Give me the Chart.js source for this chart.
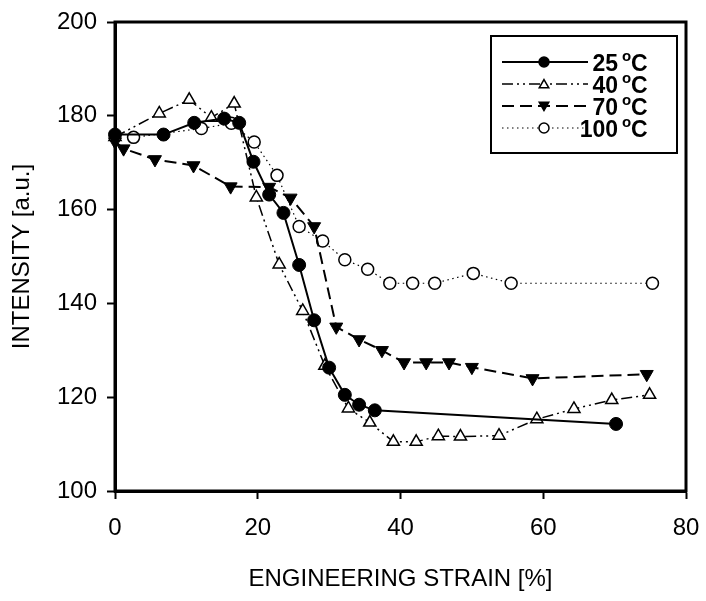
<!DOCTYPE html>
<html>
<head>
<meta charset="utf-8">
<script src="https://cdn.jsdelivr.net/npm/chart.js@4/dist/chart.umd.min.js"></script>
<style>
  html, body { margin: 0; padding: 0; background: #fff; }
  #wrap { width: 706px; height: 601px; }
</style>
</head>
<body>
<div id="wrap"><canvas id="c" width="706" height="601"></canvas></div>
<script>
// ejes
const xTicks = [0, 20, 40, 60, 80];
const yTicks = [100, 120, 140, 160, 180, 200];

// series: [deformación %, intensidad]
const strain25 = [0, 6.8, 11.1, 15.3, 17.4, 19.4, 21.6, 23.6, 25.8, 27.9, 30.0, 32.2, 34.2, 36.4, 70.2];
const int25    = [176, 176, 178.5, 179.4, 178.5, 170.2, 163.2, 159.3, 148.2, 136.4, 126.3, 120.5, 118.4, 117.2, 114.3];

const strain40 = [0, 6.2, 10.4, 13.5, 16.7, 19.8, 23.0, 26.3, 29.4, 32.7, 35.7, 39.0, 42.2, 45.3, 48.4, 53.8, 59.1, 64.3, 69.6, 74.9];
const int40    = [175.5, 180.5, 183.4, 179.6, 182.6, 162.6, 148.3, 138.4, 126.7, 117.6, 114.6, 110.5, 110.5, 111.7, 111.6, 111.8, 115.3, 117.5, 119.4, 120.5];

const strain70 = [0, 1.2, 5.6, 11.0, 16.2, 21.6, 24.6, 27.9, 31.0, 34.2, 37.4, 40.5, 43.6, 46.8, 50.0, 58.5, 74.5];
const int70    = [174.5, 173, 170.7, 169.4, 164.9, 164.8, 162.5, 156.4, 135, 132.3, 130, 127.4, 127.4, 127.4, 126.4, 124, 124.9];

const strain100 = [2.6, 12.1, 16.3, 19.5, 22.7, 25.8, 29.1, 32.2, 35.4, 38.5, 41.7, 44.8, 50.2, 55.5, 75.3];
const int100    = [175.4, 177.3, 178.4, 174.4, 167.3, 156.4, 153.3, 149.3, 147.3, 144.3, 144.3, 144.3, 146.4, 144.3, 144.3];

const seriesLabels = ['25', '40', '70', '100'];

function pts(xs, ys) {
  return xs.map((x, i) => ({ x: x, y: ys[i] }));
}

const FONT = '"Liberation Sans", Arial, sans-serif';

// marco completo + leyenda propia (línea con marcador en medio)
const legendBox = {
  id: 'legendBox',
  afterDraw(chart) {
    const ctx = chart.ctx;
    const area = chart.chartArea;
    ctx.save();
    ctx.strokeStyle = '#000';
    ctx.lineWidth = 3;
    ctx.strokeRect(area.left, area.top, area.right - area.left, area.bottom - area.top);

    const bx = 491, by = 36, bw = 186, bh = 117;
    ctx.fillStyle = '#fff';
    ctx.fillRect(bx, by, bw, bh);
    ctx.lineWidth = 2;
    ctx.strokeRect(bx, by, bw, bh);

    const rows = [62, 84, 106, 128];
    chart.data.datasets.forEach((ds, i) => {
      const y = rows[i];
      ctx.save();
      ctx.strokeStyle = '#000';
      ctx.lineWidth = ds.borderWidth;
      ctx.setLineDash(ds.borderDash || []);
      ctx.beginPath();
      ctx.moveTo(502, y);
      ctx.lineTo(588, y);
      ctx.stroke();
      ctx.restore();

      ctx.fillStyle = ds.pointBackgroundColor;
      ctx.strokeStyle = '#000';
      ctx.lineWidth = 1.5;
      ctx.beginPath();
      if (ds.pointStyle === 'circle') {
        ctx.arc(544, y, 5, 0, Math.PI * 2);
      } else {
        const r = 5.5, rot = (ds.pointRotation || 0) * Math.PI / 180;
        for (let k = 0; k < 3; k++) {
          const a = rot - Math.PI / 2 + k * 2 * Math.PI / 3;
          const px = 544 + r * Math.cos(a), py = y + r * Math.sin(a) + (rot ? -1 : 1);
          k === 0 ? ctx.moveTo(px, py) : ctx.lineTo(px, py);
        }
        ctx.closePath();
      }
      ctx.fill();
      ctx.stroke();

      // texto "25 oC"
      ctx.fillStyle = '#000';
      ctx.textBaseline = 'alphabetic';
      ctx.textAlign = 'right';
      const right = 618;
      ctx.font = 'bold 23px ' + FONT;
      ctx.fillText(seriesLabels[i], right, y + 9);
      ctx.textAlign = 'left';
      ctx.font = 'bold 15px ' + FONT;
      ctx.fillText('o', right + 4, y - 1);
      ctx.font = 'bold 23px ' + FONT;
      ctx.fillText('C', right + 13, y + 9);
    });
    ctx.restore();
  }
};

const datasets = [
  {
    label: '25 oC',
    data: pts(strain25, int25),
    borderColor: '#000',
    borderWidth: 2,
    pointStyle: 'circle',
    pointRadius: 6.5,
    pointBackgroundColor: '#000',
    pointBorderColor: '#000',
    pointBorderWidth: 1
  },
  {
    label: '40 oC',
    data: pts(strain40, int40),
    borderColor: '#000',
    borderWidth: 1.5,
    borderDash: [11, 4, 2, 4, 2, 4],
    pointStyle: 'triangle',
    pointRadius: 7,
    pointBackgroundColor: '#fff',
    pointBorderColor: '#000',
    pointBorderWidth: 1.5
  },
  {
    label: '70 oC',
    data: pts(strain70, int70),
    borderColor: '#000',
    borderWidth: 2,
    borderDash: [12, 6],
    pointStyle: 'triangle',
    pointRotation: 180,
    pointRadius: 7.5,
    pointBackgroundColor: '#000',
    pointBorderColor: '#000',
    pointBorderWidth: 1
  },
  {
    label: '100 oC',
    data: pts(strain100, int100),
    borderColor: '#000',
    borderWidth: 1.2,
    borderDash: [1.5, 3.5],
    pointStyle: 'circle',
    pointRadius: 6,
    pointBackgroundColor: '#fff',
    pointBorderColor: '#000',
    pointBorderWidth: 1.5
  }
];

new Chart(document.getElementById('c'), {
  type: 'scatter',
  data: { datasets: datasets.map(d => Object.assign({ showLine: true, tension: 0, clip: false }, d)) },
  options: {
    responsive: false,
    animation: false,
    devicePixelRatio: 1,
    layout: { padding: { top: 22, right: 20, left: 0, bottom: 0 } },
    plugins: { legend: { display: false }, tooltip: { enabled: false } },
    scales: {
      x: {
        type: 'linear',
        min: 0, max: 80,
        afterBuildTicks: (axis) => { axis.ticks = xTicks.map(v => ({ value: v })); },
        afterFit: (axis) => { axis.height = 110; axis.paddingLeft = 0; axis.paddingRight = 0; },
        grid: { drawOnChartArea: false, drawTicks: true, tickLength: 8, tickWidth: 2, tickColor: '#000' },
        border: { display: true, color: '#000', width: 3 },
        ticks: { color: '#000', font: { family: FONT, size: 24 }, padding: 15, maxRotation: 0 },
        title: { display: true, text: 'ENGINEERING STRAIN [%]', color: '#000', font: { family: FONT, size: 24 }, padding: { top: 4, bottom: 7 } }
      },
      y: {
        type: 'linear',
        min: 100, max: 200,
        afterBuildTicks: (axis) => { axis.ticks = yTicks.map(v => ({ value: v })); },
        afterFit: (axis) => { axis.width = 115; axis.paddingTop = 0; axis.paddingBottom = 0; },
        grid: { drawOnChartArea: false, drawTicks: true, tickLength: 8, tickWidth: 2, tickColor: '#000' },
        border: { display: true, color: '#000', width: 3 },
        ticks: { color: '#000', font: { family: FONT, size: 24 }, padding: 10 },
        title: { display: true, text: 'INTENSITY [a.u.]', color: '#000', font: { family: FONT, size: 24 }, padding: { top: 8, bottom: 0 } }
      }
    }
  },
  plugins: [legendBox]
});
</script>
</body>
</html>
